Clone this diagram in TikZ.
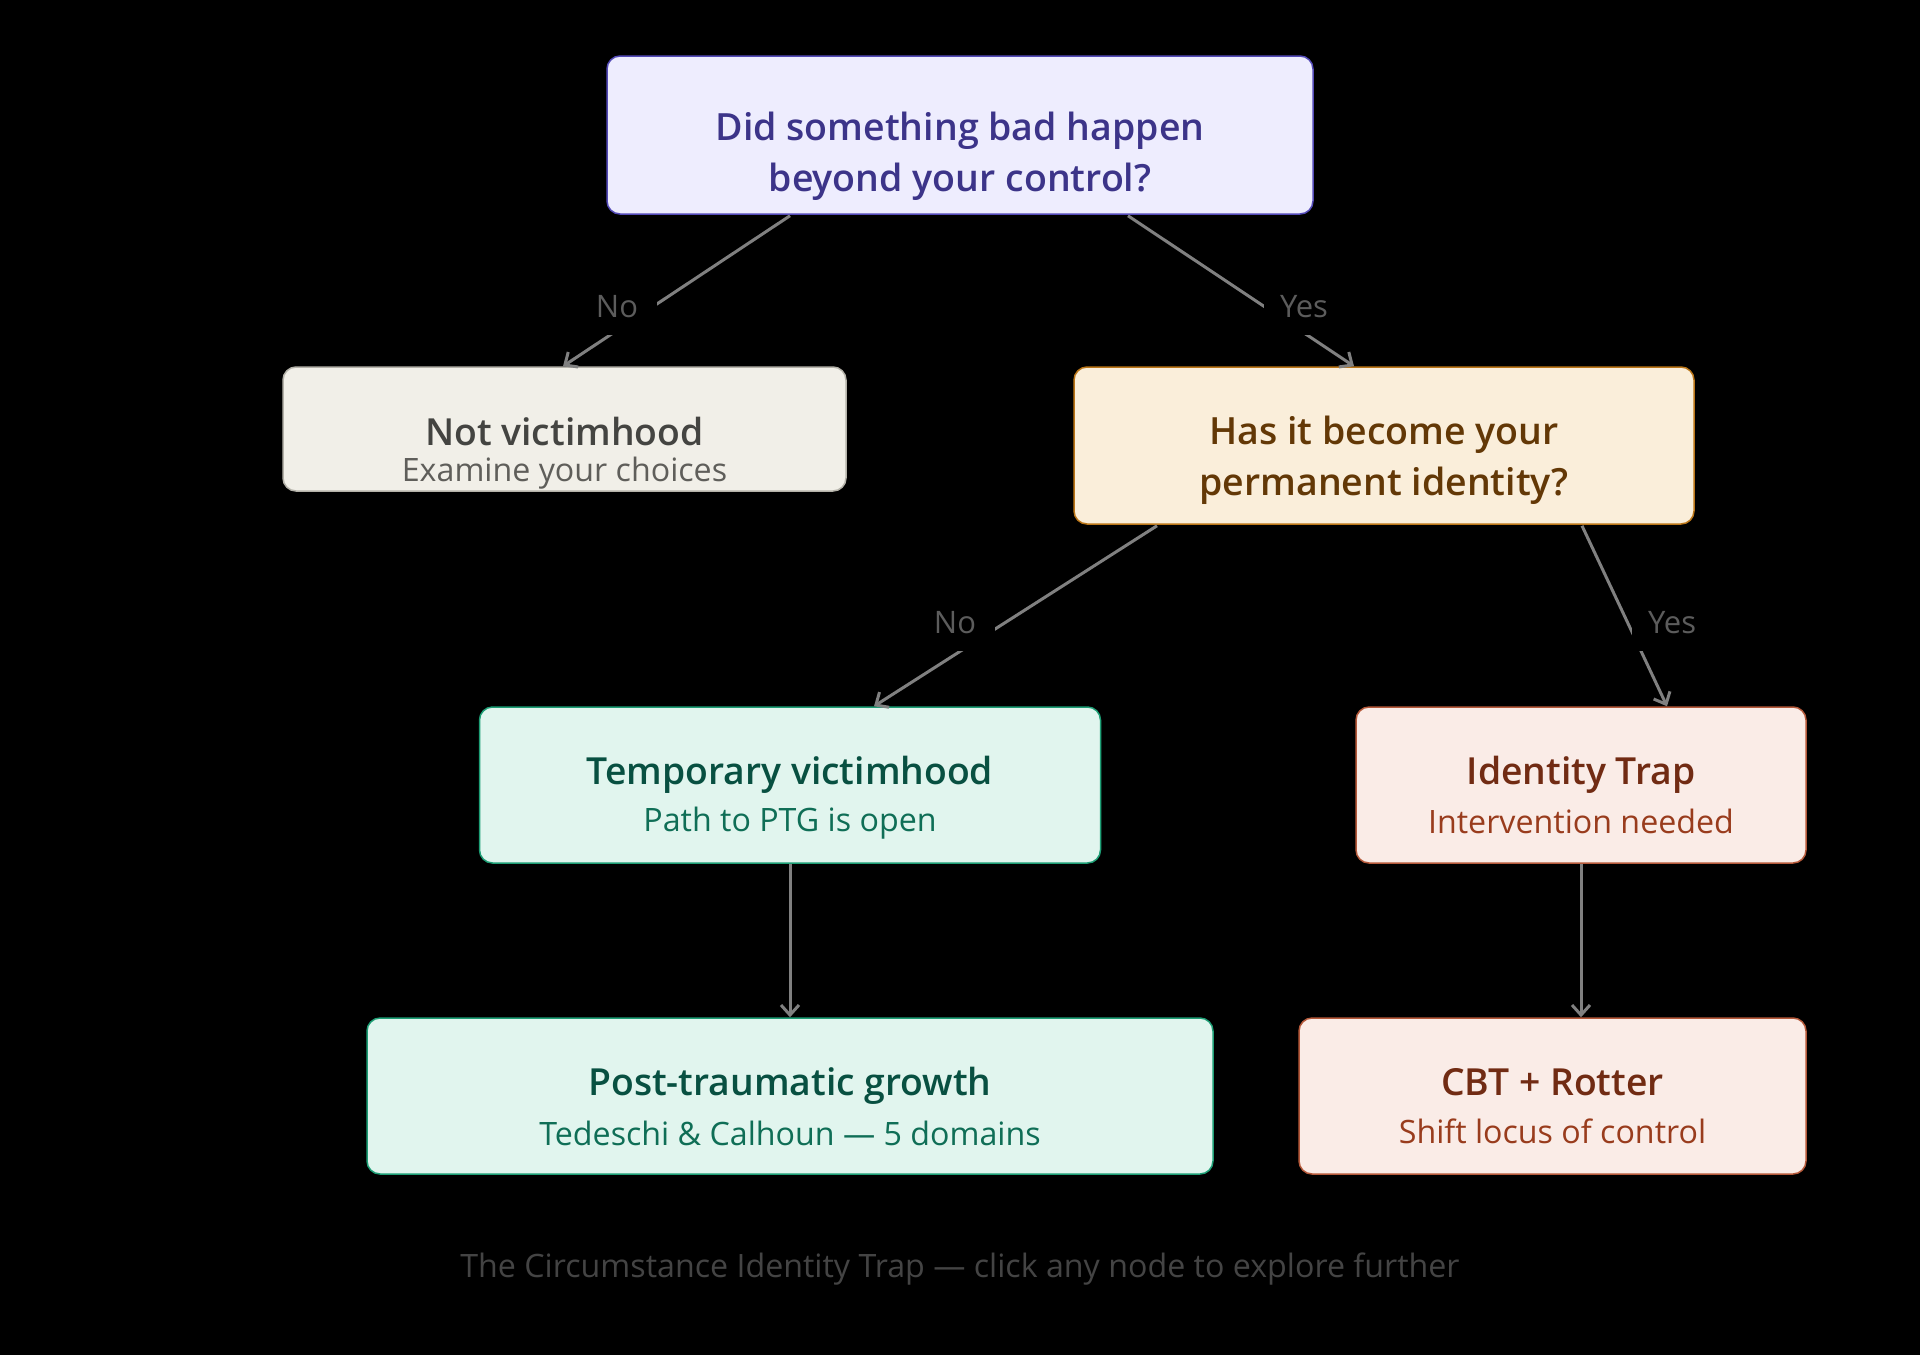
\documentclass[tikz,border=0pt]{standalone}
\usepackage{fontspec}
\setmainfont{Open Sans}[BoldFont={Open Sans Semibold}]
\usetikzlibrary{arrows.meta,calc}
\definecolor{pfill}{HTML}{EEEDFE}\definecolor{pdraw}{HTML}{534AB7}\definecolor{ptext}{HTML}{3C3489}
\definecolor{gfill}{HTML}{F1EFE8}\definecolor{gdraw}{HTML}{B4B2A9}\definecolor{gtext}{HTML}{444441}\definecolor{gsub}{HTML}{5F5E5A}
\definecolor{afill}{HTML}{FAEEDA}\definecolor{adraw}{HTML}{BA7517}\definecolor{atext}{HTML}{633806}
\definecolor{tfill}{HTML}{E1F5EE}\definecolor{tdraw}{HTML}{1D9E75}\definecolor{ttext}{HTML}{085041}\definecolor{tsub}{HTML}{0F6E56}
\definecolor{cfill}{HTML}{FAECE7}\definecolor{cdraw}{HTML}{B5593A}\definecolor{ctext}{HTML}{712B13}\definecolor{csub}{HTML}{993C1D}
\definecolor{edgec}{HTML}{808080}\definecolor{lblc}{HTML}{5C5C5C}\definecolor{capc}{HTML}{444444}
\begin{document}
\begin{tikzpicture}[x=1pt,y=-1pt,
  box/.style={rounded corners=13pt, line width=1.5pt, inner sep=0pt},
  ttl/.style={inner sep=0pt, font=\bfseries\fontsize{37.3}{44}\selectfont},
  qst/.style={inner sep=0pt, font=\bfseries\fontsize{37.5}{44}\selectfont},
  sub/.style={inner sep=0pt, font=\fontsize{32.2}{38}\selectfont},
  conn/.style={draw=edgec, line width=3pt, -{Straight Barb[length=10pt,width=18pt]}},
  lbl/.style={fill=black, inner sep=0pt, minimum width=80pt, minimum height=56pt, text=lblc, font=\fontsize{31}{36}\selectfont}]
\fill[black] (0,0) rectangle (1920,1355);
\useasboundingbox (0,0) rectangle (1920,1355);
% boxes
\node[box, fill=pfill, draw=pdraw, minimum width=706pt, minimum height=158pt] (q1) at (960,135) {};
\node[box, fill=gfill, draw=gdraw, minimum width=563pt, minimum height=124pt] (nv) at (564.5,429) {};
\node[box, fill=afill, draw=adraw, minimum width=620pt, minimum height=157pt] (q2) at (1384,445.5) {};
\node[box, fill=tfill, draw=tdraw, minimum width=621pt, minimum height=156pt] (tv) at (790,785) {};
\node[box, fill=cfill, draw=cdraw, minimum width=450pt, minimum height=156pt] (it) at (1581,785) {};
\node[box, fill=tfill, draw=tdraw, minimum width=846pt, minimum height=156pt] (ptg) at (790,1096) {};
\node[box, fill=cfill, draw=cdraw, minimum width=507pt, minimum height=156pt] (cbt) at (1552.5,1096) {};
% texts
\node[qst, text=ptext] (q1a) at (960,131) {Did something bad happen};
\node[qst, text=ptext] (q1b) at (960,182) {beyond your control?};
\node[ttl, text=gtext] (nva) at (564.5,432) {Not victimhood};
\node[sub, text=gsub] (nvb) at (564.5,473) {Examine your choices};
\node[qst, text=atext] (q2a) at (1384,435) {Has it become your};
\node[qst, text=atext] (q2b) at (1384,486) {permanent identity?};
\node[ttl, text=ttext] (tva) at (790,775) {Temporary victimhood};
\node[sub, text=tsub] (tvb) at (790,823) {Path to PTG is open};
\node[ttl, text=ctext] (ita) at (1581,775) {Identity Trap};
\node[sub, text=csub] (itb) at (1581,821) {Intervention needed};
\node[ttl, text=ttext] (ptga) at (790,1086) {Post-traumatic growth};
\node[sub, text=tsub] (ptgb) at (790,1133) {Tedeschi \& Calhoun — 5 domains};
\node[ttl, text=ctext] (cbta) at (1552.5,1082) {CBT + Rotter};
\node[sub, text=csub] (cbtb) at (1552.5,1131) {Shift locus of control};
\node[inner sep=0pt, text=capc, font=\fontsize{32.2}{38}\selectfont] (cap) at (960,1269) {The Circumstance Identity Trap — click any node to explore further};
% connectors
\draw[conn] ($(q1.south)+(-170,1)$) -- (nv.north -| 563,0);
\draw[conn] ($(q1.south)+(168,1)$) -- ($(q2.north)+(-30,0)$);
\draw[conn] ($(q2.south)+(-227,1)$) -- ($(tv.north)+(84,0)$);
\draw[conn] ($(q2.south)+(198,1)$) -- ($(it.north)+(86,0)$);
\draw[conn] (tv.south) -- (ptg.north);
\draw[conn] (it.south) -- (it.south |- cbt.north);
% edge labels
\node[lbl] (l1) at (617,307) {No};
\node[lbl] (l2) at (1304,307) {Yes};
\node[lbl] (l3) at (955,623) {No};
\node[lbl] (l4) at (1672,623) {Yes};
\end{tikzpicture}
\end{document}
